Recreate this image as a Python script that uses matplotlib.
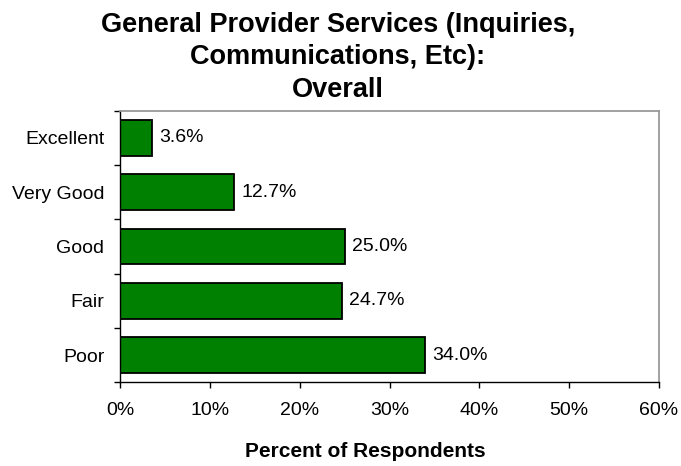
import matplotlib.pyplot as plt

plt.rcParams['font.family'] = ['Liberation Sans', 'DejaVu Sans']

categories = ['Excellent', 'Very Good', 'Good', 'Fair', 'Poor']
values = [3.6, 12.7, 25.0, 24.7, 34.0]
xticks = [0, 10, 20, 30, 40, 50, 60]

W, H = 681, 466
fig = plt.figure(figsize=(W / 100, H / 100), dpi=100)
# plot area in pixels: x 120..659, y 110.7..382.3
ax = fig.add_axes([120 / W, (H - 382.3) / H, 539 / W, 271.6 / H])

pos = list(range(len(categories)))
ax.barh(pos, values, height=0.66, color='#008000', edgecolor='black', linewidth=1.3)
for p, v in zip(pos, values):
    ax.text(v + 0.8, p, f'{v:.1f}%', va='center', ha='left', fontsize=14)

ax.set_ylim(len(categories) - 0.5, -0.5)
ax.set_xlim(0, 60)

# category boundaries get the tick marks, labels sit between them
ax.set_yticks([p - 0.5 for p in pos] + [len(categories) - 0.5])
ax.set_yticklabels([])
ax.set_yticks(pos, minor=True)
ax.set_yticklabels(categories, minor=True, fontsize=14)
ax.tick_params(axis='y', which='minor', length=0, pad=11.3)
ax.tick_params(axis='y', which='major', length=4, width=1, direction='out')

ax.set_xticks(xticks)
ax.set_xticklabels([f'{t}%' for t in xticks], fontsize=14)
ax.tick_params(axis='x', length=4, width=1, pad=10)

for s in ['top', 'right']:
    ax.spines[s].set_color('#9a9a9a')
    ax.spines[s].set_linewidth(1.3)
for s in ['left', 'bottom']:
    ax.spines[s].set_color('black')
    ax.spines[s].set_linewidth(1.0)

fig.text(365 / W, 1 - 457 / H, 'Percent of Respondents',
         ha='center', va='baseline', fontsize=15, fontweight='bold')

fig.text(338 / W, 1 - 12 / H, 'General Provider Services (Inquiries,\nCommunications, Etc):\nOverall',
         ha='center', va='top', fontsize=19.5, fontweight='bold', linespacing=1.32)

fig.savefig('out.png', dpi=100)
